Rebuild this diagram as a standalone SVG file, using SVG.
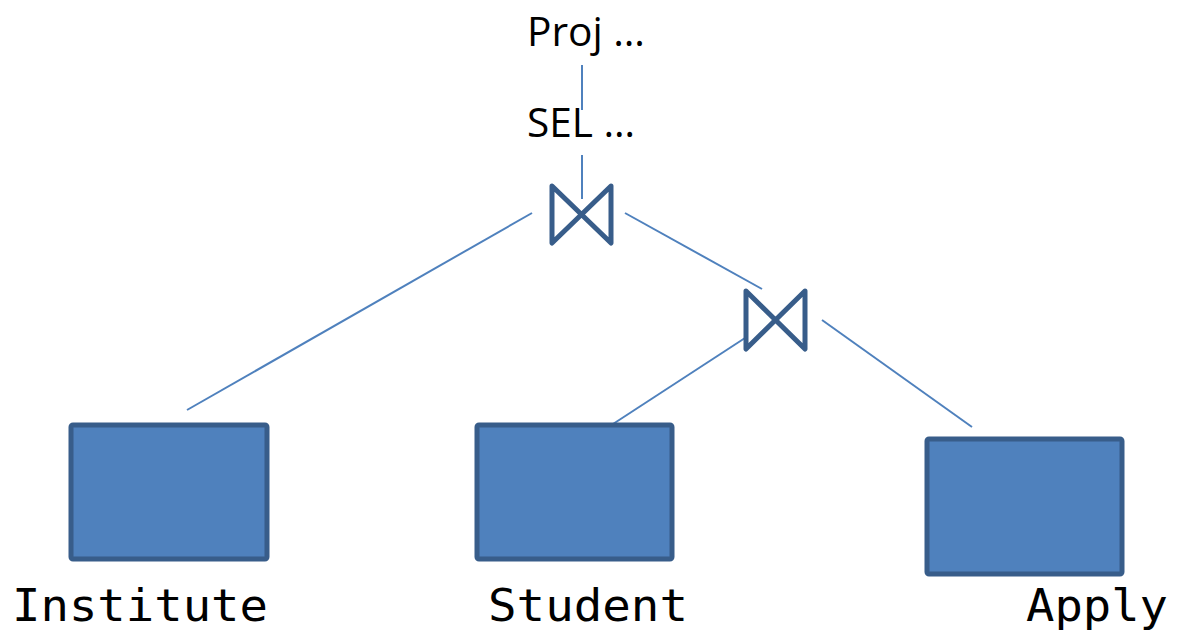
<svg xmlns="http://www.w3.org/2000/svg" width="1191" height="635" viewBox="0 0 1191 635">
  <style>
    .rel { fill: #4f81bd; stroke: #385d8a; stroke-width: 5; }
    .join { fill: none; stroke: #385d8a; stroke-width: 5; stroke-linejoin: round; stroke-linecap: round; }
    .edge { stroke: #4f81bd; stroke-width: 2; fill: none; }
    .op { font-family: "Open Sans", "Liberation Sans", sans-serif; font-size: 40px; fill: #000; }
    .name { font-family: "DejaVu Sans Mono", "Liberation Mono", monospace; font-size: 44px; fill: #000; }
  </style>
  <rect width="1191" height="635" fill="#fff"/>

  <g id="edges">
    <line class="edge" x1="582" y1="65" x2="582" y2="110"/>
    <line class="edge" x1="582" y1="155" x2="582" y2="199"/>
    <line class="edge" x1="532" y1="213" x2="187" y2="410"/>
    <line class="edge" x1="625" y1="213" x2="762" y2="289"/>
    <line class="edge" x1="745" y1="338" x2="613" y2="424"/>
    <line class="edge" x1="822" y1="320" x2="972" y2="427"/>
  </g>

  <g id="proj">
    <text class="op" x="527" y="46" textLength="118" lengthAdjust="spacingAndGlyphs">Proj …</text>
  </g>
  <g id="sel">
    <text class="op" x="527" y="137" textLength="108" lengthAdjust="spacingAndGlyphs">SEL …</text>
  </g>

  <g id="join1">
    <path class="join" d="M552,186 L611,243 L611,186 L552,243 Z"/>
  </g>
  <g id="join2">
    <path class="join" d="M746,291 L805,349 L805,291 L746,349 Z"/>
  </g>

  <g id="institute">
    <rect class="rel" x="71" y="425" width="196" height="134" rx="2"/>
    <text class="name" x="12" y="621" textLength="256" lengthAdjust="spacingAndGlyphs">Institute</text>
  </g>
  <g id="student">
    <rect class="rel" x="477" y="425" width="195" height="134" rx="2"/>
    <text class="name" x="488" y="621" textLength="200" lengthAdjust="spacingAndGlyphs">Student</text>
  </g>
  <g id="apply">
    <rect class="rel" x="927" y="439" width="195" height="135" rx="2"/>
    <text class="name" x="1026" y="621" textLength="142" lengthAdjust="spacingAndGlyphs">Apply</text>
  </g>
</svg>
